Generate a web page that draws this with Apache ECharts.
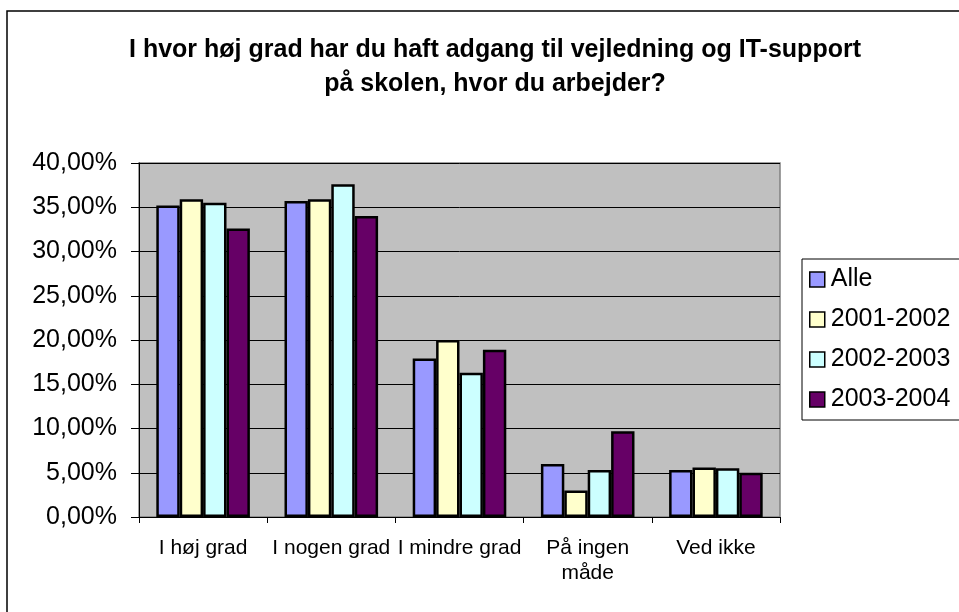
<!DOCTYPE html>
<html>
<head>
<meta charset="utf-8">
<script src="https://cdn.jsdelivr.net/npm/echarts@6/dist/echarts.min.js"></script>
<style>
html,body{margin:0;padding:0;background:#fff;}
#chart{width:959px;height:612px;}
</style>
</head>
<body>
<div id="chart"></div>
<script>
const titleText = 'I hvor høj grad har du haft adgang til vejledning og IT-support\npå skolen, hvor du arbejder?';
const categories = ['I høj grad', 'I nogen grad', 'I mindre grad', 'På ingen\nmåde', 'Ved ikke'];
const seriesNames = ['Alle', '2001-2002', '2002-2003', '2003-2004'];
const alle = [35.2, 35.7, 17.9, 6.0, 5.3];
const y2001 = [35.9, 35.9, 20.0, 3.0, 5.6];
const y2002 = [35.5, 37.6, 16.3, 5.3, 5.5];
const y2003 = [32.6, 34.0, 18.9, 9.7, 5.0];
const colors = ['#9999FF', '#FFFFCC', '#CCFFFF', '#660066'];

const FONT = '"Liberation Sans", Arial, sans-serif';
const chart = echarts.init(document.getElementById('chart'), null, {renderer: 'canvas'});
const dataSets = [alle, y2001, y2002, y2003];

chart.setOption({
  animation: false,
  textStyle: {fontFamily: FONT, color: '#000'},
  title: {
    text: titleText,
    left: 490,
    top: 28,
    textAlign: 'center',
    textStyle: {fontFamily: FONT, fontSize: 25, fontWeight: 'bold', color: '#000', lineHeight: 34}
  },
  graphic: [{
    type: 'rect',
    shape: {x: 7, y: 11, width: 1000, height: 700},
    style: {fill: 'none', stroke: '#000', lineWidth: 1.5},
    silent: true
  }],
  legend: {
    orient: 'vertical',
    left: 802,
    top: 259,
    padding: [8, 30, 8, 7],
    itemGap: 15,
    itemWidth: 15,
    itemHeight: 15,
    borderColor: '#000',
    borderWidth: 1,
    icon: 'rect',
    textStyle: {fontFamily: FONT, fontSize: 25, color: '#000', padding: [0, 0, 0, 1]},
    itemStyle: {borderColor: '#000', borderWidth: 1.5},
    data: seriesNames
  },
  grid: {
    left: 139, right: 179, top: 163, bottom: 95,
    show: true,
    backgroundColor: '#C0C0C0',
    borderColor: '#808080',
    borderWidth: 1.5
  },
  xAxis: {
    type: 'category',
    data: categories,
    axisLine: {show: true, lineStyle: {color: '#000', width: 1}},
    axisTick: {show: true, alignWithLabel: false, length: 6, lineStyle: {color: '#000'}},
    axisLabel: {fontFamily: FONT, fontSize: 21, color: '#000', margin: 19, lineHeight: 25, interval: 0}
  },
  yAxis: {
    type: 'value',
    min: 0, max: 40, interval: 5,
    axisLine: {show: true, lineStyle: {color: '#000', width: 1}},
    axisTick: {show: true, length: 8, lineStyle: {color: '#000'}},
    splitLine: {show: true, lineStyle: {color: '#000', width: 1}},
    axisLabel: {
      fontFamily: FONT, fontSize: 25, color: '#000', margin: 22,
      formatter: v => v.toFixed(2).replace('.', ',') + '%'
    }
  },
  series: seriesNames.map((name, i) => ({
    name: name,
    type: 'bar',
    data: dataSets[i],
    barGap: '0%',
    barCategoryGap: '27%',
    itemStyle: {color: colors[i], borderColor: '#000', borderWidth: 2.5}
  }))
});
</script>
</body>
</html>
